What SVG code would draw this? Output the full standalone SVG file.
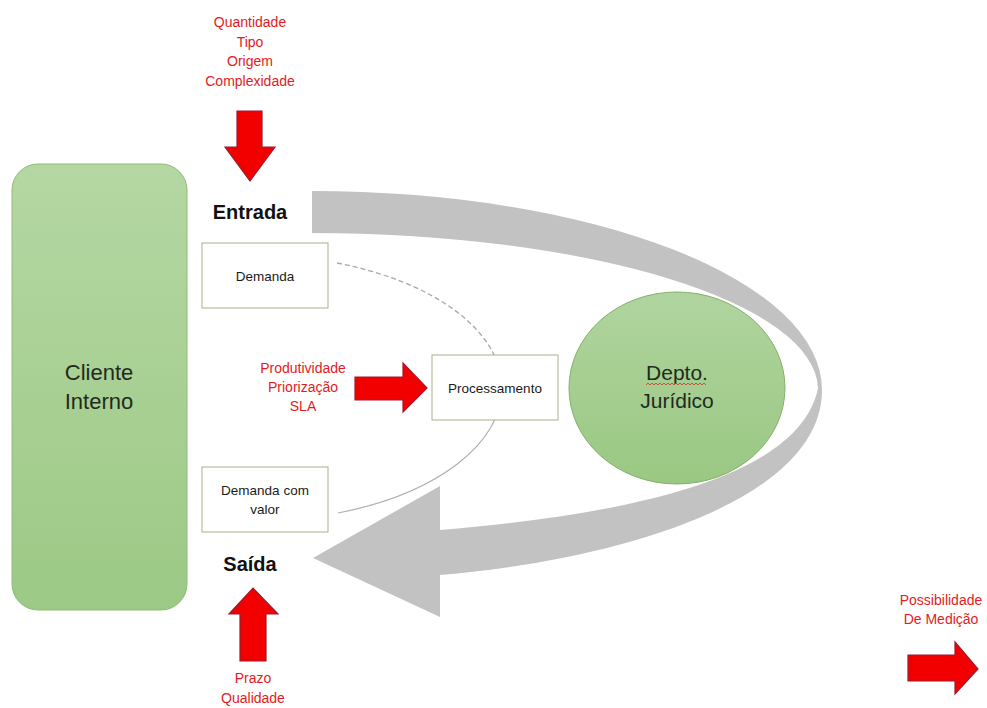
<svg xmlns="http://www.w3.org/2000/svg" width="987" height="708" viewBox="0 0 987 708">
<defs>
<linearGradient id="gGreen" x1="0" y1="0" x2="0" y2="1">
<stop offset="0" stop-color="#b5d7a3"/>
<stop offset="1" stop-color="#9cc985"/>
</linearGradient>
<linearGradient id="gCircle" x1="0" y1="0" x2="0" y2="1">
<stop offset="0" stop-color="#b0d49f"/>
<stop offset="1" stop-color="#9ac882"/>
</linearGradient>
</defs>
<style>
.red{font-family:"Liberation Sans",Arial,sans-serif;font-size:14px;fill:#e31b23;text-anchor:middle}
.box{fill:#ffffff;stroke:#a3b18a;stroke-width:1}
.bt{font-family:"Liberation Sans",Arial,sans-serif;font-size:13.5px;fill:#1a1a1a;text-anchor:middle}
.big{font-family:"Liberation Sans",Arial,sans-serif;font-size:22px;fill:#1e2b1e;text-anchor:middle}
.hd{font-family:"Liberation Sans",Arial,sans-serif;font-size:20px;font-weight:bold;fill:#111;text-anchor:middle}
.rarrow{fill:#f20000;stroke:#9b1b30;stroke-width:1.2;stroke-linejoin:miter}
</style>
<rect width="987" height="708" fill="#ffffff"/>

<g id="connectors">
<path id="cycle-arrow" fill="#c2c2c2" d="M312,191 A510,199 0 0 1 822,390 C822,500 620,560 440,575 L440,617 L313,558 L440,486 L440,530 C620,515 800,480 818,388 A506,157 0 0 0 312,233 Z"/>
<path d="M337,263 A250,133 0 0 1 502,388" fill="none" stroke="#a8a8a8" stroke-width="1.3" stroke-dasharray="5,3"/>
<path d="M502,388 A250,133 0 0 1 338,513" fill="none" stroke="#b0b0b0" stroke-width="1.2"/>
<path id="arrow-top" class="rarrow" d="M237,111 L262,111 L262,147 L275,147 L250,181 L225,147 L237,147 Z"/>
<path id="arrow-bottom" class="rarrow" d="M240,661 L266,661 L266,614 L278,614 L253,588 L229,614 L240,614 Z"/>
<path id="arrow-mid" class="rarrow" d="M355,377 L403,377 L403,363 L427,388 L403,412 L403,400 L355,400 Z"/>
<path id="arrow-right" class="rarrow" d="M908,655 L955,655 L955,642 L978,669 L955,694 L955,681 L908,681 Z"/>
</g>

<g id="cliente-interno">
<rect x="12" y="164" width="175" height="446" rx="26" ry="26" fill="url(#gGreen)" stroke="#8fbb76" stroke-width="1"/>
<text class="big" x="99" y="380">Cliente</text>
<text class="big" x="99" y="409">Interno</text>
</g>

<g id="entrada">
<text class="hd" x="250" y="219">Entrada</text>
</g>
<g id="saida">
<text class="hd" x="250" y="571">Saída</text>
</g>

<g id="demanda">
<rect class="box" x="202" y="243" width="126" height="65"/>
<text class="bt" x="265" y="281">Demanda</text>
</g>

<g id="demanda-com-valor">
<rect class="box" x="202" y="467" width="126" height="65"/>
<text class="bt" x="265" y="495">Demanda com</text>
<text class="bt" x="265" y="514">valor</text>
</g>

<g id="processamento">
<rect class="box" x="432" y="355" width="126" height="65"/>
<text class="bt" x="495" y="393">Processamento</text>
</g>

<g id="depto-juridico">
<ellipse cx="677" cy="388" rx="108" ry="96" fill="url(#gCircle)" stroke="#82b06b" stroke-width="1"/>
<text class="big" x="677" y="380" style="font-size:21px">Depto.</text>
<path d="M646,385 l2,-2 l2,2 l2,-2 l2,2 l2,-2 l2,2 l2,-2 l2,2 l2,-2 l2,2 l2,-2 l2,2 l2,-2 l2,2 l2,-2 l2,2 l2,-2 l2,2 l2,-2 l2,2 l2,-2 l2,2 l2,-2 l2,2 l2,-2 l2,2 l2,-2 l2,2 l2,-2 l2,2" fill="none" stroke="#d03030" stroke-width="0.8"/>
<text class="big" x="677" y="408" style="font-size:21px">Jurídico</text>
</g>

<g id="label-entrada">
<text class="red" x="250" y="27">Quantidade</text>
<text class="red" x="250" y="47">Tipo</text>
<text class="red" x="250" y="66">Origem</text>
<text class="red" x="250" y="86">Complexidade</text>
</g>
<g id="label-processamento">
<text class="red" x="303" y="373">Produtividade</text>
<text class="red" x="303" y="392">Priorização</text>
<text class="red" x="303" y="411">SLA</text>
</g>
<g id="label-saida">
<text class="red" x="253" y="683">Prazo</text>
<text class="red" x="253" y="703">Qualidade</text>
</g>
<g id="label-medicao">
<text class="red" x="941" y="605">Possibilidade</text>
<text class="red" x="941" y="624">De Medição</text>
</g>
</svg>
